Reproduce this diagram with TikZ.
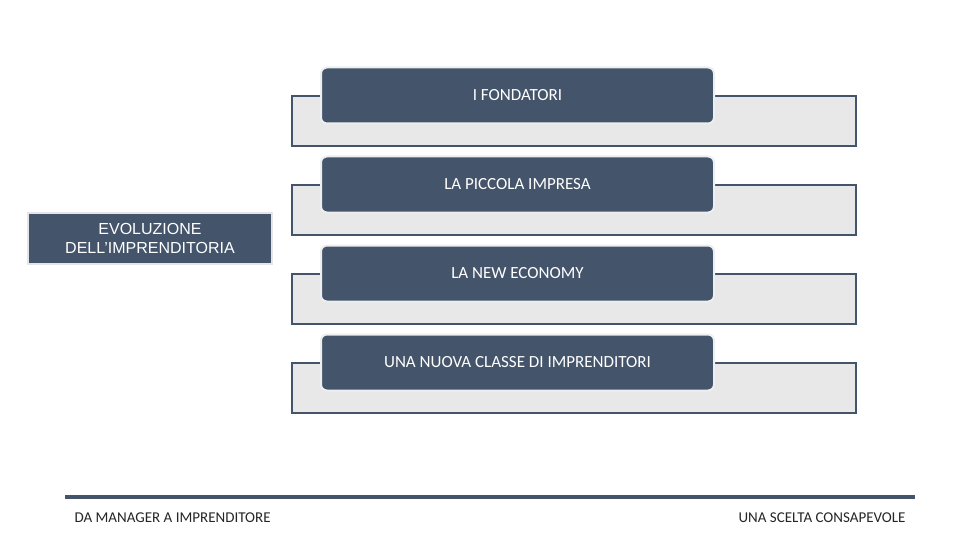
\documentclass[tikz,border=0pt]{standalone}
\usepackage{fontspec}
\setmainfont{Carlito}
\newfontfamily\arialfont{Liberation Sans}
\usetikzlibrary{positioning}
\definecolor{slate}{HTML}{44546A}
\definecolor{lightgrey}{HTML}{E8E8E8}
\tikzset{back box/.style={draw=slate,line width=2pt,fill=lightgrey,minimum width=564pt,minimum height=50pt,inner sep=0pt},
front box/.style={draw=white!90!slate,line width=2pt,fill=slate,rounded corners=6pt,minimum width=393pt,minimum height=56pt,inner sep=0pt,text=white,font=\fontsize{17}{20}\selectfont},
}
\begin{document}
\begin{tikzpicture}[x=1pt,y=-1pt]
\useasboundingbox[fill=white] (0,0) rectangle (960,540);
\node[draw=white!85!slate,line width=1.5pt,fill=slate,minimum width=244pt,minimum height=51pt,inner sep=0pt,align=center,text=white,font=\arialfont\fontsize{16}{19}\selectfont] (evo) at (150,238.5) {EVOLUZIONE\\DELL’IMPRENDITORIA};
\foreach \i/\t in {0/I FONDATORI,1/LA PICCOLA IMPRESA,2/LA NEW ECONOMY,3/UNA NUOVA CLASSE DI IMPRENDITORI}{
  \node[back box] (back\i) at (574,121+89*\i) {};
  \node[front box] (step\i) at (517.5,95.5+89*\i) {\t};
}
\coordinate (lineL) at (65,497);
\coordinate (lineR) at (915,497);
\draw[slate,line width=4pt] (lineL) -- (lineR);
\node[anchor=west,font=\fontsize{15}{18}\selectfont,text=black!85] (footL) at (71,518) {DA MANAGER A IMPRENDITORE};
\node[anchor=east,font=\fontsize{15}{18}\selectfont,text=black!85] (footR) at (909,518) {UNA SCELTA CONSAPEVOLE};
\end{tikzpicture}
\end{document}
